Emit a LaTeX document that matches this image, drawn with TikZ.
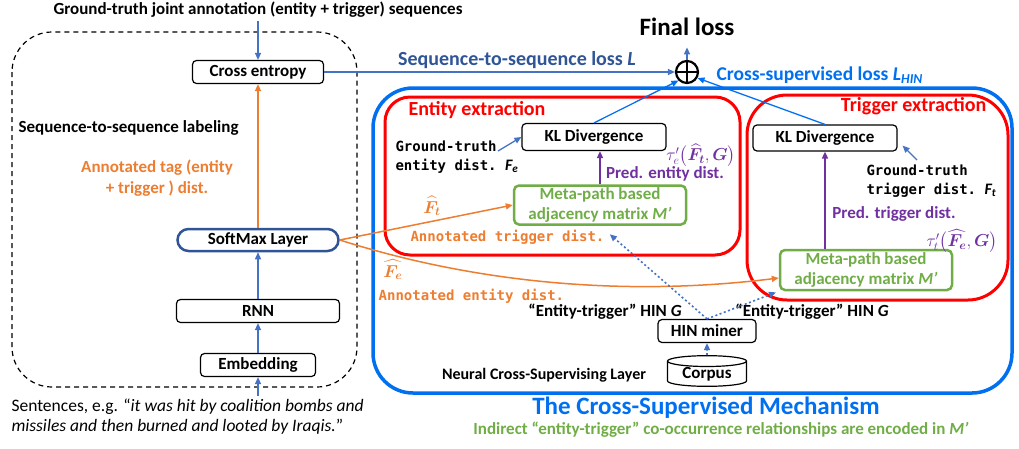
\documentclass[tikz,border=0pt]{standalone}
\usepackage{fontspec}
\setmainfont{Carlito}
\setmonofont{DejaVu Sans Mono}
\usepackage{amsmath}
\usepackage{bm}
\usetikzlibrary{shapes.geometric, calc, positioning, arrows.meta}

\definecolor{ablue}{RGB}{68,114,196}
\definecolor{dblue}{RGB}{47,85,151}
\definecolor{cblue}{RGB}{0,112,240}
\definecolor{mred}{RGB}{255,0,0}
\definecolor{morange}{RGB}{237,125,49}
\definecolor{mgreen}{RGB}{112,173,71}
\definecolor{mpurple}{RGB}{112,48,160}

\tikzset{
  box/.style={draw, rounded corners=4pt, line width=1.2pt, inner sep=0pt, font=\fontsize{17}{20}\selectfont\bfseries},
  mbox/.style={draw=mgreen, text=mgreen, rounded corners=5pt, line width=2.5pt, align=center, inner sep=0pt, minimum width=172pt, minimum height=39pt, font=\fontsize{17}{20}\selectfont\bfseries},
  lbl/.style={font=\fontsize{17}{20}\selectfont\bfseries},
  big/.style={font=\fontsize{25}{30}\selectfont\bfseries},
  mono/.style={font=\fontsize{14}{19}\selectfont\ttfamily\bfseries, align=left},
  tau/.style={mpurple, inner sep=0pt, font=\fontsize{16.5}{18}\selectfont},
  arr/.style={-{Triangle[length=7pt,width=6pt]}, line width=1.3pt, ablue},
  carr/.style={arr, cblue},
  oarr/.style={arr, morange, line width=1.5pt},
  parr/.style={arr, mpurple, line width=1.5pt},
  darr/.style={arr, line width=1.6pt, dash pattern=on 2pt off 2.5pt}
}

\begin{document}
\begin{tikzpicture}[x=1pt, y=-1pt]
\useasboundingbox (0,0) rectangle (1019,448);

% sequence-to-sequence labeling
\draw[dash pattern=on 5pt off 4pt, line width=1.2pt, rounded corners=40pt] (12,32) rectangle (357,387);
\node[lbl] (gt) at (258,10) {Ground-truth joint annotation (entity + trigger) sequences};
\node[box, minimum width=131pt, minimum height=23pt] (ce) at (258,72) {Cross entropy};
\node[lbl, anchor=west] (s2s) at (15,128) {Sequence-to-sequence labeling};
\node[morange, align=center, font=\fontsize{17}{21}\selectfont\bfseries] (tag) at (157,178) {Annotated tag (entity\\+ trigger ) dist.};
\node[box, draw=dblue, line width=2.5pt, rounded corners=11pt, minimum width=161pt, minimum height=22pt] (sm) at (258,240) {SoftMax Layer};
\node[box, minimum width=163pt, minimum height=23pt] (rnn) at (258,311) {RNN};
\node[box, minimum width=115pt, minimum height=23pt] (emb) at (258,365) {Embedding};
\node[anchor=west, align=left, font=\fontsize{17.5}{20}\selectfont] (sent) at (8,417) {Sentences, e.g. “\textit{it was hit by coalition bombs and}\\\textit{missiles and then burned and looted by Iraqis.}”};

\draw[arr] (gt) -- (ce);
\draw[oarr] (sm) -- (ce);
\draw[arr] (rnn) -- (sm);
\draw[arr] (emb) -- (rnn);
\draw[arr] (sent.north -| emb.south) -- (emb);

% losses
\node[big] (final) at (687,27) {Final loss};
\node[circle, draw, line width=2.2pt, minimum size=22pt, inner sep=0pt] (sum) at (687,72) {};
\draw[line width=2.2pt] (sum.north) -- (sum.south) (sum.west) -- (sum.east);
\node[dblue, font=\fontsize{20}{24}\selectfont\bfseries] (seql) at (517,60) {Sequence-to-sequence loss \textit{L}};
\node[cblue, font=\fontsize{19.5}{24}\selectfont\bfseries, anchor=west] (csl) at (713,75) {Cross-supervised loss \textit{L}\textsubscript{\textit{HIN}}};
\draw[arr, line width=1.2pt] (ce) -- (sum);
\draw[arr] (sum) -- ([yshift=-8pt]final.south);

% cross-supervised mechanism
\draw[cblue, line width=3.5pt, rounded corners=40pt] (373,88) rectangle (1012,393);
\draw[mred, line width=3pt, rounded corners=25pt] (385,97) rectangle (740,255);
\draw[mred, line width=3pt, rounded corners=40pt] (747,95) rectangle (1008,300);
\node[mred, font=\fontsize{20}{24}\selectfont\bfseries, anchor=west] (ee) at (405,110) {Entity extraction};
\node[mred, font=\fontsize{20}{24}\selectfont\bfseries, anchor=east] (te) at (990,106) {Trigger extraction};

\node[box, minimum width=144pt, minimum height=27pt] (kle) at (594,137) {KL Divergence};
\node[box, minimum width=144pt, minimum height=26pt] (klt) at (825,138) {KL Divergence};
\node[mbox] (mpe) at (600,205) {Meta-path based\\adjacency matrix \textit{M’}};
\node[mbox, minimum height=40pt] (mpt) at (866,270) {Meta-path based\\adjacency matrix \textit{M’}};

\node[mono, anchor=west] (gte) at (392,157) {Ground-truth\\entity dist. {\rmfamily\bfseries\itshape\fontsize{16}{19}\selectfont F\textsubscript{e}}};
\node[mono, anchor=west] (gtt) at (863,181) {Ground-truth\\trigger dist. {\rmfamily\bfseries\itshape\fontsize{16}{19}\selectfont F\textsubscript{t}}};
\coordinate (gtearr) at (498,151);
\coordinate (gttarr) at (917,160);

\node[tau] (taue) at (701,155) {$\tau'_e\bigl(\widehat{\bm{F}}_{\bm{t}},\bm{G}\bigr)$};
\node[lbl, mpurple, inner sep=0.5pt] (prede) at (665,174) {Pred. entity dist.};
\node[lbl, mpurple, inner sep=0.5pt] (predt) at (894,214) {Pred. trigger dist.};
\node[tau] (taut) at (962,241) {$\tau'_t\bigl(\widehat{\bm{F}_{\bm{e}}},\bm{G}\bigr)$};

\node[morange, inner sep=0.5pt, font=\fontsize{18}{20}\selectfont] (fth) at (432,206) {$\widehat{\bm{F}}_{\bm{t}}$};
\node[mono, morange, anchor=west] (atd) at (407,237) {Annotated trigger dist.};
\node[morange, inner sep=0pt, font=\fontsize{17}{20}\selectfont] (feh) at (393,270) {$\widehat{\bm{F}_{\bm{e}}}$};
\node[mono, morange, anchor=west, inner sep=0.5pt] (aed) at (378,296) {Annotated entity dist.};

\node[box, minimum width=98pt, minimum height=23pt] (hin) at (707,331) {HIN miner};
\node[lbl] (hg1) at (605,312) {“Entity-trigger” HIN \textit{G}};
\node[lbl] (hg2) at (812,312) {“Entity-trigger” HIN \textit{G}};
\node[draw, cylinder, shape border rotate=90, aspect=0.22, line width=1.2pt, minimum width=79pt, minimum height=30pt, inner sep=0pt, font=\fontsize{17}{20}\selectfont\bfseries] (corpus) at (707,374) {Corpus};
\node[font=\fontsize{16}{20}\selectfont\bfseries] (ncs) at (544,375) {Neural Cross-Supervising Layer};

\node[cblue, big] (title) at (706,408) {The Cross-Supervised Mechanism};
\node[lbl, mgreen] (indirect) at (721,430) {Indirect “entity-trigger” co-occurrence relationships are encoded in \textit{M’}};

\draw[carr] (kle.north) -- (sum.south west);
\draw[carr] (klt.north) -- (sum.-30);
\draw[arr] (gtearr) -- (kle.west);
\draw[arr] (gttarr) -- ([shift={(5,-6)}]klt.south east);
\draw[parr] (mpe.north) -- (mpe.north |- kle.south);
\draw[parr] (klt.south |- mpt.north) -- (klt.south);
\draw[oarr] (sm.east) -- (mpe.west);
\draw[oarr] (sm.east) .. controls (450,275) and (600,300) .. ([yshift=-8pt]mpt.west);
\draw[darr, shorten >=13pt] (hin.north) -- (mpe.south);
\draw[darr, shorten >=3pt] (hin.north) -- (mpt.south west);
\draw[darr] (corpus.north) -- (hin.south);
\end{tikzpicture}
\end{document}
